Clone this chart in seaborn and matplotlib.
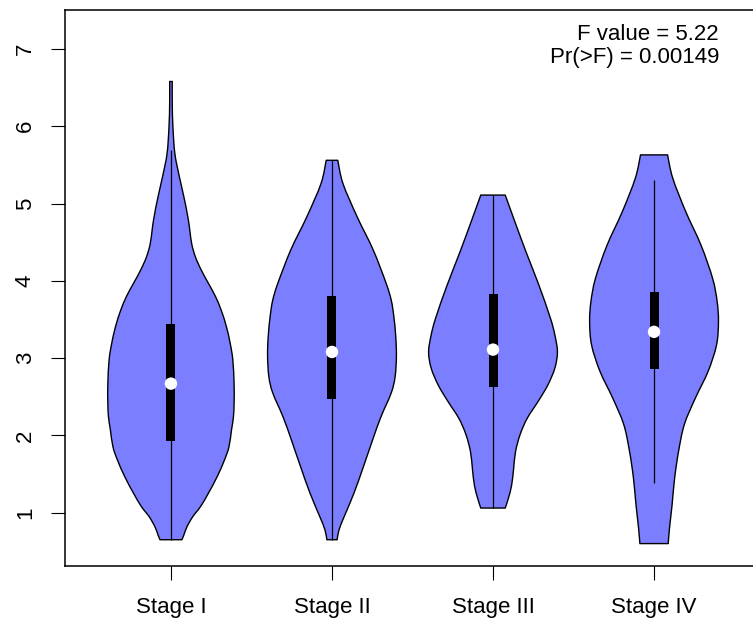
import numpy as np
import matplotlib
matplotlib.use("Agg")
import matplotlib.pyplot as plt
from matplotlib.path import Path
from matplotlib.patches import PathPatch
import seaborn as sns

# ---- data ----
stages = ["Stage I", "Stage II", "Stage III", "Stage IV"]

# density profiles (y level, relative density) per stage
stage1_y = [6.58, 6.30, 6.00, 5.65, 5.35, 5.09, 4.79, 4.49, 4.31, 4.14, 3.97, 3.80, 3.62, 3.41, 3.19,
            2.98, 2.67, 2.42, 2.24, 2.07, 1.85, 1.68, 1.47, 1.25, 1.08, 0.95, 0.82, 0.71, 0.65]
stage1_d = [0.02, 0.02, 0.03, 0.06, 0.13, 0.20, 0.27, 0.32, 0.38, 0.47, 0.58, 0.69, 0.78, 0.86, 0.92,
            0.96, 0.98, 0.98, 0.97, 0.94, 0.90, 0.83, 0.72, 0.58, 0.46, 0.34, 0.25, 0.20, 0.17]

stage2_y = [5.56, 5.26, 4.83, 4.40, 3.97, 3.75, 3.54, 3.28, 3.02, 2.76, 2.55, 2.24, 1.94, 1.60, 1.25,
            0.95, 0.78, 0.65]
stage2_d = [0.09, 0.17, 0.39, 0.64, 0.84, 0.92, 0.96, 0.99, 1.00, 0.98, 0.92, 0.76, 0.63, 0.49, 0.34,
            0.19, 0.11, 0.08]

stage3_y = [5.11, 4.81, 4.38, 3.95, 3.52, 3.30, 3.08, 2.87, 2.65, 2.44, 2.22, 2.01, 1.79, 1.57, 1.36,
            1.19, 1.06]
stage3_d = [0.19, 0.32, 0.51, 0.71, 0.89, 0.96, 1.00, 0.96, 0.85, 0.70, 0.53, 0.42, 0.35, 0.32, 0.29,
            0.24, 0.19]

stage4_y = [5.63, 5.33, 4.90, 4.46, 4.03, 3.73, 3.47, 3.17, 2.83, 2.48, 2.14, 1.79, 1.45, 1.10, 0.80,
            0.60]
stage4_d = [0.21, 0.29, 0.49, 0.73, 0.91, 0.98, 1.00, 0.97, 0.84, 0.64, 0.47, 0.38, 0.32, 0.28, 0.24,
            0.22]

q1 = [1.93, 2.47, 2.62, 2.86]
q3 = [3.44, 3.80, 3.83, 3.85]
medians = [2.67, 3.08, 3.11, 3.34]
whisk_lo = [0.65, 0.65, 1.06, 1.39]
whisk_hi = [5.69, 5.56, 5.11, 5.31]

y_ticks = [1, 2, 3, 4, 5, 6, 7]
stat_lines = ["F value = 5.22", "Pr(>F) = 0.00149"]


def smooth_side(pts):
    """Catmull-Rom styled Bezier segments through the given outline points."""
    verts, codes = [], []
    n = len(pts)
    for i in range(n - 1):
        p0 = pts[max(i - 1, 0)]
        p1 = pts[i]
        p2 = pts[i + 1]
        p3 = pts[min(i + 2, n - 1)]
        c1 = p1 + (p2 - p0) / 6.0
        c2 = p2 - (p3 - p1) / 6.0
        verts += [tuple(c1), tuple(c2), tuple(p2)]
        codes += [Path.CURVE4] * 3
    return verts, codes


# ---- drawing ----
sns.set_theme(style="white")
plt.rcParams["font.family"] = ["Liberation Sans", "DejaVu Sans"]

fig = plt.figure(figsize=(7.53, 6.30), dpi=100)
ax = fig.add_axes([65 / 753, 64 / 630, 695 / 753, 556 / 630])

fill_col = "#7B7FFF"
profiles = [(stage1_y, stage1_d), (stage2_y, stage2_d), (stage3_y, stage3_d), (stage4_y, stage4_d)]
positions = np.arange(1, len(stages) + 1)

for pos, (ys, ds) in zip(positions, profiles):
    ys = np.asarray(ys, dtype=float)
    hw = 0.4 * np.asarray(ds, dtype=float)
    left = np.column_stack([pos - hw, ys])            # top -> bottom
    right = np.column_stack([pos + hw, ys])[::-1]     # bottom -> top
    verts = [tuple(left[0])]
    codes = [Path.MOVETO]
    v, c = smooth_side(left)
    verts += v; codes += c
    verts.append(tuple(right[0])); codes.append(Path.LINETO)
    v, c = smooth_side(right)
    verts += v; codes += c
    verts.append(tuple(left[0])); codes.append(Path.CLOSEPOLY)
    patch = PathPatch(Path(verts, codes), facecolor=fill_col, edgecolor="black",
                      lw=1.0, zorder=2, joinstyle="round")
    ax.add_patch(patch)

ax.vlines(positions, whisk_lo, whisk_hi, color="black", lw=0.9, zorder=3)
ax.bar(positions, np.array(q3) - np.array(q1), bottom=q1, width=0.056,
       color="black", edgecolor="black", linewidth=0, zorder=4)
sns.scatterplot(x=positions, y=medians, color="white", s=80, edgecolor="none", zorder=5,
                ax=ax, legend=False)

ax.set_xlim(0.342, 4.658)
ax.set_ylim(0.310, 7.505)
ax.set_xticks(positions)
ax.set_xticklabels(stages)
ax.set_yticks(y_ticks)
ax.set_yticklabels([str(t) for t in y_ticks])
ax.set_xlabel("")
ax.set_ylabel("")

for s in ax.spines.values():
    s.set_color("black")
    s.set_linewidth(1.1)
    s.set_visible(True)

ax.tick_params(axis="both", which="major", direction="out", length=10, width=0.8,
               color="black", labelsize=16, labelcolor="black", pad=11,
               bottom=True, left=True)
ax.tick_params(axis="x", pad=12.5)
for lab in ax.get_yticklabels():
    lab.set_rotation(90)
    lab.set_va("center")
    lab.set_ha("right")

ax.text(0.941, 0.946, stat_lines[0], transform=ax.transAxes, ha="right", va="baseline",
        fontsize=16, color="black")
ax.text(0.941, 0.9047, stat_lines[1], transform=ax.transAxes, ha="right", va="baseline",
        fontsize=16, color="black")

fig.savefig("out.png", dpi=100, facecolor="white")
